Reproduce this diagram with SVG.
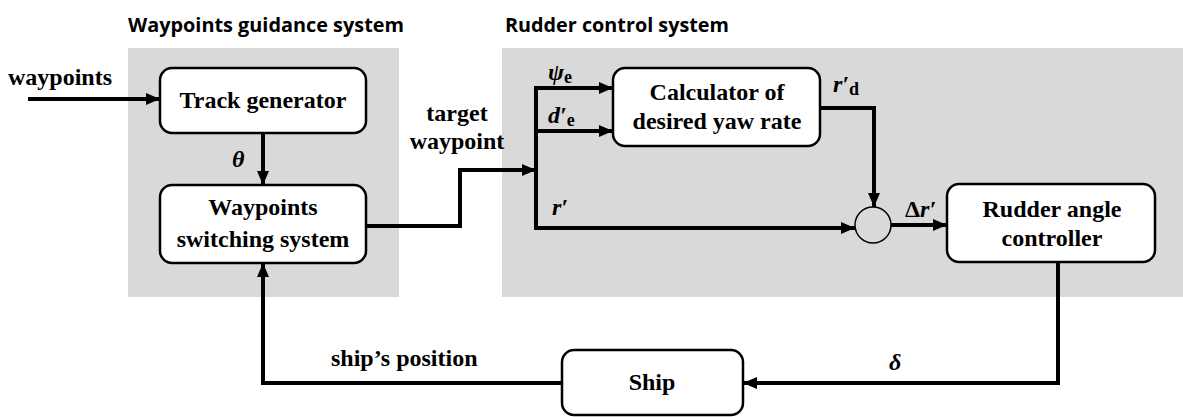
<svg xmlns="http://www.w3.org/2000/svg" width="1183" height="417" viewBox="0 0 1183 417">
<style>
.panel{fill:#d9d9d9;stroke:none}
.box{fill:#fff;stroke:#000;stroke-width:2.5}
.t,.l,.m{font-family:'Liberation Serif','DejaVu Serif','Times New Roman',serif;font-weight:700;font-size:24px;fill:#000}
.t{text-anchor:middle}
.m{font-style:italic}
.sub{font-style:normal;font-size:18px}
.h{font-family:'Open Sans','Liberation Sans',sans-serif;font-weight:700;font-size:19px;fill:#000}
.c{fill:none;stroke:#000;stroke-width:4}
</style>
<defs>
<marker id="ah" markerUnits="userSpaceOnUse" markerWidth="14" markerHeight="12" refX="14" refY="6" orient="auto">
<path d="M0,0 L14,6 L0,12 Z" fill="#000"/>
</marker>
</defs>
<g id="panel-guidance">
<rect class="panel" x="128" y="48" width="271" height="249"/>
<text class="h" x="128" y="32" textLength="276" lengthAdjust="spacingAndGlyphs">Waypoints guidance system</text>
</g>
<g id="panel-rudder">
<rect class="panel" x="502" y="48" width="681" height="249"/>
<text class="h" x="505" y="32" textLength="224" lengthAdjust="spacingAndGlyphs">Rudder control system</text>
</g>
<g id="connectors">
<path class="c" d="M28 99 H160" marker-end="url(#ah)"/>
<path class="c" d="M263 133 V185" marker-end="url(#ah)"/>
<path class="c" d="M366 226 H460 V170 H536" marker-end="url(#ah)"/>
<path class="c" d="M536 86 V230"/>
<path class="c" d="M534 88 H613" marker-end="url(#ah)"/>
<path class="c" d="M536 131 H613" marker-end="url(#ah)"/>
<path class="c" d="M534 228 H855" marker-end="url(#ah)"/>
<path class="c" d="M820 108 H874 V207" marker-end="url(#ah)"/>
<path class="c" d="M891 225 H947" marker-end="url(#ah)"/>
<path class="c" d="M1058 262 V383 H743" marker-end="url(#ah)"/>
<path class="c" d="M562 383 H263 V263" marker-end="url(#ah)"/>
</g>
<g id="labels">
<text class="l" x="8" y="85">waypoints</text>
<text class="m" x="232" y="167">θ</text>
<text class="t" x="457" y="121">target</text>
<text class="t" x="457" y="149">waypoint</text>
<text class="m" x="548" y="80">ψ<tspan class="sub" dy="3">e</tspan></text>
<text class="m" x="548" y="123">d′<tspan class="sub" dy="3">e</tspan></text>
<text class="m" x="552" y="215">r′</text>
<text class="m" x="833" y="92">r′<tspan class="sub" dy="3">d</tspan></text>
<text class="m" x="905" y="217"><tspan font-style="normal">Δ</tspan>r′</text>
<text class="m" x="889" y="370">δ</text>
<text class="l" x="331" y="366">ship’s position</text>
</g>
<g id="track-generator">
<rect class="box" x="160" y="68" width="206" height="65" rx="12"/>
<text class="t" x="263" y="108">Track generator</text>
</g>
<g id="switching-system">
<rect class="box" x="160" y="185" width="206" height="78" rx="12"/>
<text class="t" x="263" y="215">Waypoints</text>
<text class="t" x="263" y="247">switching system</text>
</g>
<g id="calculator">
<rect class="box" x="613" y="68" width="207" height="78" rx="12"/>
<text class="t" x="717" y="100">Calculator of</text>
<text class="t" x="717" y="129">desired yaw rate</text>
</g>
<g id="sum">
<circle cx="873" cy="225" r="18" fill="none" stroke="#000" stroke-width="1.5"/>
</g>
<g id="rudder-controller">
<rect class="box" x="947" y="184" width="208" height="78" rx="12"/>
<text class="t" x="1052" y="217">Rudder angle</text>
<text class="t" x="1052" y="246">controller</text>
</g>
<g id="ship">
<rect class="box" x="562" y="350" width="181" height="65" rx="12"/>
<text class="t" x="652" y="390">Ship</text>
</g>
</svg>
